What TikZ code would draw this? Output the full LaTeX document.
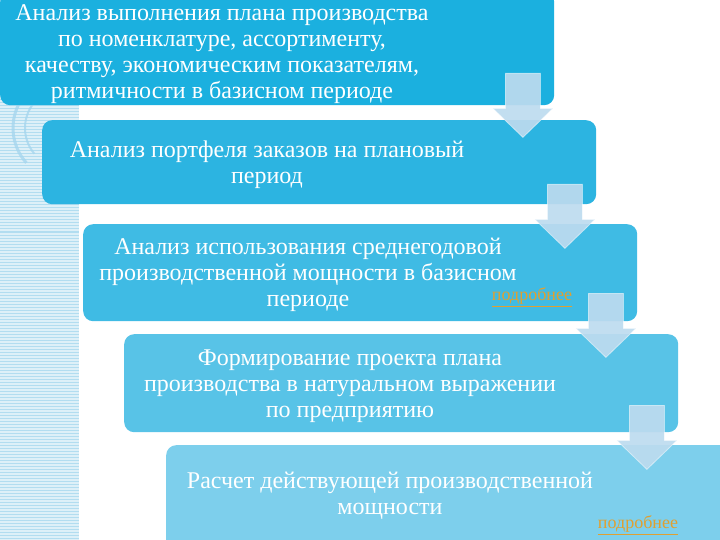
\documentclass[tikz,border=0pt]{standalone}
\usepackage{fontspec}
\setmainfont{Liberation Serif}
\usetikzlibrary{calc}

\definecolor{stageA}{HTML}{1BB0DF}
\definecolor{stageB}{HTML}{2CB4E1}
\definecolor{stageC}{HTML}{3FBBE4}
\definecolor{stageD}{HTML}{58C3E7}
\definecolor{stageE}{HTML}{7DCFEC}
\definecolor{arrowfill}{HTML}{BDDBEF}
\definecolor{stripebg}{HTML}{DDF0F8}
\definecolor{stripeline}{HTML}{B2DDF0}
\definecolor{ringcol}{HTML}{A6D6EE}
\definecolor{morecol}{HTML}{E0A030}

\begin{document}
\begin{tikzpicture}[x=1pt, y=-1pt,
    stage/.style={rounded corners=10pt, inner sep=0pt, anchor=north west},
    stagetext/.style={text=white, align=center, inner sep=0pt, font=\fontsize{24}{26}\selectfont},
    more/.style={text=morecol, font=\fontsize{18}{20}\selectfont},
    flowarrow/.style={fill=arrowfill, fill opacity=0.92, draw=white, draw opacity=0.5, line width=0.8pt},
    ring/.style={draw=ringcol, line width=3pt, opacity=0.8}]
    \useasboundingbox (0, 0) rectangle (720, 540);

    % striped strip on the left
    \fill [stripebg] (0, 0) rectangle (79, 540);
    \foreach \y in {1, 4, ..., 540} {
        \draw [stripeline, line width=1pt] (0, \y) -- (79, \y);
    }
    \draw [ring] (65, 128) ++(212:52) arc (212:138:52);
    \draw [ring, line width=2pt] (65, 128) ++(215:40) arc (215:140:40);

    % stages
    \node [stage, fill=stageA, minimum width=554pt, minimum height=113pt] (b1) at (0, -8) {};
    \node [stage, fill=stageB, minimum width=554pt, minimum height=84pt] (b2) at (42, 120) {};
    \node [stage, fill=stageC, minimum width=554pt, minimum height=97pt] (b3) at (83, 224) {};
    \node [stage, fill=stageD, minimum width=554pt, minimum height=98pt] (b4) at (124, 334) {};
    \node [stage, fill=stageE, minimum width=600pt, minimum height=110pt] (b5) at (166, 445) {};

    % arrows between stages
    \foreach \i/\d in {1/32, 2/20, 3/28, 4/27} {
        \coordinate (a\i) at ($(b\i.south east) + (-31.5, -\d)$);
        \fill [flowarrow] (a\i) ++(-17.5, 0) -- ++(35, 0) -- ++(0, 35) -- ++(12.5, 0)
            -- ++(-30, 29) -- ++(-30, -29) -- ++(12.5, 0) -- cycle;
    }

    % texts
    \node [stagetext] (t1) at ($(b1.west) + (222, 5)$)
        {Анализ выполнения плана производства\\ по номенклатуре, ассортименту,\\
         качеству, экономическим показателям,\\ ритмичности в базисном периоде};
    \node [stagetext] (t2) at ($(b2.west) + (225, 3)$)
        {Анализ портфеля заказов на плановый\\ период};
    \node [stagetext] (t3) at ($(b3.west) + (225, 2)$)
        {Анализ использования среднегодовой\\ производственной мощности в базисном\\ периоде};
    \node [stagetext] (t4) at ($(b4.west) + (226, 3)$)
        {Формирование проекта плана\\ производства в натуральном выражении\\ по предприятию};
    \node [stagetext] (t5) at ($(b5.north west) + (224, 51)$)
        {Расчет действующей производственной\\ мощности};
    \node [more] (m3) at (532, 297) {\underline{подробнее}};
    \node [more] (m5) at (638, 525) {\underline{подробнее}};
\end{tikzpicture}
\end{document}
